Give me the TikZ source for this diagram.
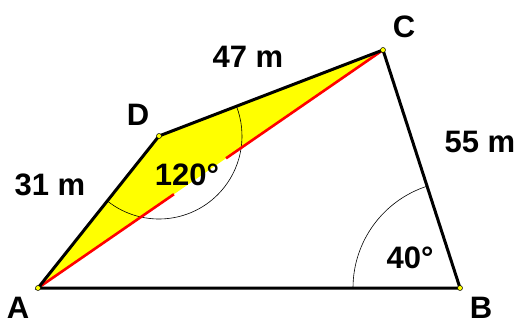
\documentclass[tikz,border=0pt]{standalone}
\definecolor{figyellow}{RGB}{255,255,0}
\definecolor{figred}{RGB}{255,0,0}
\usepackage{fontspec}
\setmainfont{Liberation Sans}
\usepackage{tikz}
\usetikzlibrary{angles,calc}
\begin{document}
\begin{tikzpicture}[x=1pt,y=1pt,
    side/.style={line width=3pt,line cap=round},
    diag/.style={figred,line width=2.6pt},
    vertex/.style={circle,draw=black,fill=figyellow,line width=0.5pt,inner sep=0pt,minimum size=5pt},
    lbl/.style={font=\fontsize{31}{36}\selectfont\bfseries,inner sep=0pt}]
        \useasboundingbox (0,0) rectangle (519,324);
        \coordinate (A) at (38,36);
        \coordinate (B) at (460,36);
        \coordinate (C) at (383,274);
        \coordinate (D) at (159,188);
        % shaded triangle
        \fill[figyellow] (A) -- (D) -- (C) -- cycle;
        % angle marks
        \pic[draw,line width=0.6pt,angle radius=83pt] {angle=A--D--C};
        \pic[draw,line width=0.6pt,angle radius=107pt] {angle=C--B--A};
        % diagonal, broken at the label
        \path (A) -- (C) coordinate[pos=0.394] (r1) coordinate[pos=0.545] (r2);
        \draw[diag] (A) -- (r1);
        \draw[diag] (r2) -- (C);
        % sides
        \draw[side] (A) -- (B) -- (C) -- (D) -- cycle;
        \foreach \p in {A,B,C,D}
          \node[vertex] at (\p) {};
        % labels
        \node[lbl] (lA) at (18,16) {A};
        \node[lbl] (lB) at (481,16) {B};
        \node[lbl] (lC) at (404,297) {C};
        \node[lbl] (lD) at (138,209) {D};
        \node[lbl] (l47) at (248,267) {47 m};
        \node[lbl] (l31) at (50,139) {31 m};
        \node[lbl] (l55) at (480,182) {55 m};
        \node[lbl] (l120) at (187,149) {120°};
        \node[lbl] (l40) at (410,66) {40°};
      \end{tikzpicture}
\end{document}
